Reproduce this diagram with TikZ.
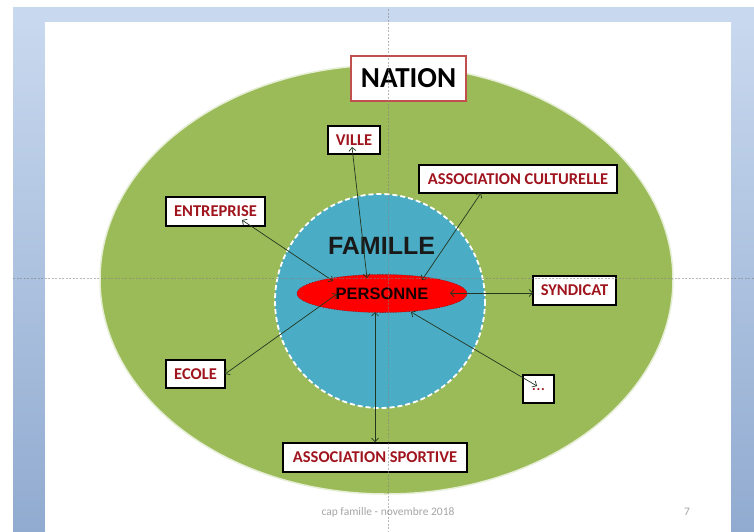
\documentclass[tikz,border=0pt]{standalone}
\usepackage{fontspec}
\setmainfont{Carlito}
\newfontfamily\arialfont{Liberation Sans}
\usetikzlibrary{arrows.meta,shapes.geometric}
\definecolor{nationgreen}{HTML}{9BBB59}
\definecolor{famblue}{HTML}{4BACC6}
\definecolor{boxred}{HTML}{A0141E}
\definecolor{nationred}{HTML}{C0504D}
\definecolor{arrowcol}{HTML}{23361F}
\definecolor{bandblue}{HTML}{C8D8EE}
\definecolor{stripdark}{HTML}{91ABD0}
\definecolor{footgray}{HTML}{A6A6A6}
\tikzset{
  labelbox/.style={draw=black, line width=1.6pt, fill=white, text=boxred,
    font=\fontsize{16.5}{19}\selectfont\bfseries, inner sep=0pt, minimum height=28pt},
  link/.style={draw=arrowcol, line width=0.7pt,
    {Straight Barb[length=3.5pt,width=7pt]}-{Straight Barb[length=3.5pt,width=7pt]}},
  guide/.style={draw=gray, dash pattern=on 2pt off 1.5pt, line width=0.6pt, opacity=0.55},
}
\begin{document}
\begin{tikzpicture}[x=1pt,y=-1pt]
\useasboundingbox (0,0) rectangle (754,531);
% window background
\fill[white] (0,0) rectangle (754,531);
\fill[bandblue] (13,7) rectangle (754,22);
\shade[top color=bandblue, bottom color=stripdark] (13,22) rectangle (45,531);
\shade[top color=bandblue, bottom color=stripdark] (731,22) rectangle (754,531);
\fill[white] (45,22) rectangle (731,531);
% nation area
\draw[draw=white!75!nationgreen, line width=1.5pt, fill=nationgreen]
  (386.5,279.5) ellipse [x radius=286.5, y radius=214.5];
% famille circle
\draw[draw=white, line width=1.8pt, dash pattern=on 5pt off 3pt, fill=famblue]
  (380,301) ellipse [x radius=105, y radius=107];
\node[font=\arialfont\bfseries\fontsize{25}{28}\selectfont, text=black!90] (famille) at (381.5,246) {FAMILLE};
% personne
\node[ellipse, minimum width=170pt, minimum height=38pt, inner sep=0pt, fill=red,
  draw=red!55!black, densely dotted, line width=0.6pt,
  font=\arialfont\bfseries\fontsize{16.5}{18}\selectfont, text=black!90!red] (personne) at (382,293.5) {PERSONNE};
% boxes
\node[draw=nationred, line width=1.2pt, fill=white, minimum width=115pt, minimum height=45pt, inner sep=0pt,
  font=\fontsize{29}{32}\selectfont\bfseries] (nation) at (408.5,78.5) {NATION};
\node[labelbox, minimum width=52pt] (ville) at (354,140) {VILLE};
\node[labelbox, minimum width=198pt] (cult) at (518,179) {ASSOCIATION CULTURELLE};
\node[labelbox, minimum width=99pt, minimum height=29pt] (entreprise) at (215.5,211.5) {ENTREPRISE};
\node[labelbox, minimum width=83pt, minimum height=29pt] (syndicat) at (574.5,290.5) {SYNDICAT};
\node[labelbox, minimum width=59pt] (ecole) at (195.5,374) {ECOLE};
\node[labelbox, minimum width=31pt, font=\fontsize{14}{16}\selectfont\bfseries] (etc) at (538.5,389) {\raisebox{-4pt}{.\kern0.8pt.\kern0.8pt.}};
\node[labelbox, minimum width=184pt, minimum height=29pt] (sport) at (375,457.5) {ASSOCIATION SPORTIVE};
% connector end points
\coordinate (pE) at (333,281);
\coordinate (pV) at (367,278);
\coordinate (pC) at (422,280);
\coordinate (pS) at (450,293);
\coordinate (pEc) at (337,294);
\coordinate (pSp) at (375,312);
\coordinate (pEt) at (411,312);
\coordinate (bE) at (242,220);
\coordinate (bV) at (352,147);
\coordinate (bC) at (481,193);
\coordinate (bS) at (533,293);
\coordinate (bEc) at (225,374);
\coordinate (bSp) at (375,442);
\coordinate (bEt) at (537,386);
\draw[link] (bE) -- (pE);
\draw[link] (bV) -- (pV);
\draw[link] (bC) -- (pC);
\draw[link] (pS) -- (bS);
\draw[link] (bEc) -- (pEc);
\draw[link] (pSp) -- (bSp);
\draw[link] (pEt) -- (bEt);
% footer
\node[text=footgray, font=\fontsize{11.5}{13}\selectfont] (footer) at (388,512) {cap famille - novembre 2018};
\node[text=footgray, font=\fontsize{11.5}{13}\selectfont] (pagenum) at (687,512) {7};
% guides
\draw[guide] (388,9) -- (388,531);
\draw[guide] (13,278) -- (754,278);
\end{tikzpicture}
\end{document}
